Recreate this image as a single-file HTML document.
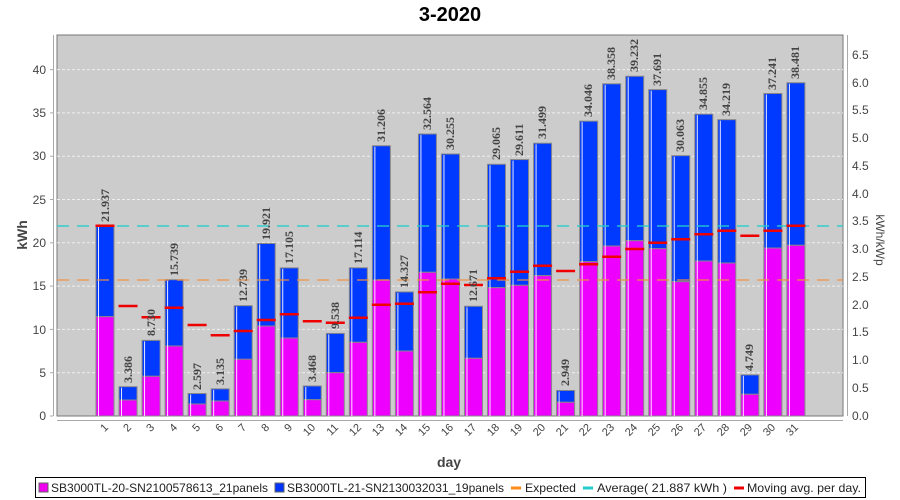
<!DOCTYPE html>
<html><head><meta charset="utf-8"><style>
html,body{margin:0;padding:0;background:#fff;}
svg{display:block;}
.vl{font-family:"Liberation Serif",serif;font-weight:bold;font-size:12px;fill:#444;}
.xl{font-family:"Liberation Sans",sans-serif;font-size:11px;fill:#444;}
.tk{font-family:"Liberation Sans",sans-serif;font-size:12px;fill:#444;}
.lg{font-family:"Liberation Sans",sans-serif;font-size:12px;fill:#222;}
</style></head><body>
<svg id="s" width="900" height="500" xmlns="http://www.w3.org/2000/svg">
<rect x="0" y="0" width="900" height="500" fill="#fff"/>
<text x="450" y="21" text-anchor="middle" font-family="Liberation Sans,sans-serif" font-weight="bold" font-size="20" fill="#000">3-2020</text>
<rect x="57" y="35" width="786" height="381" fill="#cccccc" stroke="#777" stroke-width="1"/>
<g id="grid" stroke="#eee" stroke-width="1" stroke-dasharray="3,2">
<line x1="57" x2="843" y1="372.7" y2="372.7"/><line x1="57" x2="843" y1="329.4" y2="329.4"/>
<line x1="57" x2="843" y1="286.1" y2="286.1"/><line x1="57" x2="843" y1="242.8" y2="242.8"/>
<line x1="57" x2="843" y1="199.5" y2="199.5"/><line x1="57" x2="843" y1="156.2" y2="156.2"/>
<line x1="57" x2="843" y1="112.9" y2="112.9"/><line x1="57" x2="843" y1="69.6" y2="69.6"/>
</g>
<g id="bars"></g>
<line x1="53.5" y1="35" x2="53.5" y2="416" stroke="#aaa"/>
<line x1="57" y1="420.5" x2="843" y2="420.5" stroke="#aaa"/>
<line x1="847.5" y1="35" x2="847.5" y2="416" stroke="#aaa"/>
<g class="tk" text-anchor="end">
<text x="46" y="420">0</text><text x="46" y="377">5</text><text x="46" y="334">10</text>
<text x="46" y="290">15</text><text x="46" y="247">20</text><text x="46" y="204">25</text>
<text x="46" y="160">30</text><text x="46" y="117">35</text><text x="46" y="74">40</text>
</g>
<g stroke="#aaa"><line x1="50" x2="53" y1="416" y2="416"/><line x1="50" x2="53" y1="372.7" y2="372.7"/><line x1="50" x2="53" y1="329.4" y2="329.4"/><line x1="50" x2="53" y1="286.1" y2="286.1"/><line x1="50" x2="53" y1="242.8" y2="242.8"/><line x1="50" x2="53" y1="199.5" y2="199.5"/><line x1="50" x2="53" y1="156.2" y2="156.2"/><line x1="50" x2="53" y1="112.9" y2="112.9"/><line x1="50" x2="53" y1="69.6" y2="69.6"/></g>
<g class="tk" font-size="11">
<text x="852" y="420">0.0</text><text x="852" y="392">0.5</text><text x="852" y="364">1.0</text>
<text x="852" y="336">1.5</text><text x="852" y="309">2.0</text><text x="852" y="281">2.5</text>
<text x="852" y="253">3.0</text><text x="852" y="225">3.5</text><text x="852" y="198">4.0</text>
<text x="852" y="170">4.5</text><text x="852" y="142">5.0</text><text x="852" y="114">5.5</text>
<text x="852" y="87">6.0</text><text x="852" y="59">6.5</text>
</g>
<text transform="translate(27,235) rotate(-90)" text-anchor="middle" font-family="Liberation Sans,sans-serif" font-weight="bold" font-size="14" fill="#444">kWh</text>
<text transform="translate(876,240) rotate(90)" text-anchor="middle" font-family="Liberation Sans,sans-serif" font-size="12" fill="#444">kWh/kWp</text>
<text x="449" y="467" text-anchor="middle" font-family="Liberation Sans,sans-serif" font-weight="bold" font-size="14" fill="#444">day</text>
<g class="vl">
<text transform="translate(109,222) rotate(-90)">21.937</text>
<text transform="translate(132,383) rotate(-90)">3.386</text>
<text transform="translate(155,336) rotate(-90)">8.730</text>
<text transform="translate(178,276) rotate(-90)">15.739</text>
<text transform="translate(201,390) rotate(-90)">2.597</text>
<text transform="translate(224,385) rotate(-90)">3.135</text>
<text transform="translate(247,302) rotate(-90)">12.739</text>
<text transform="translate(270,240) rotate(-90)">19.921</text>
<text transform="translate(293,264) rotate(-90)">17.105</text>
<text transform="translate(316,382) rotate(-90)">3.468</text>
<text transform="translate(339,329) rotate(-90)">9.538</text>
<text transform="translate(362,264) rotate(-90)">17.114</text>
<text transform="translate(385,142) rotate(-90)">31.206</text>
<text transform="translate(408,288) rotate(-90)">14.327</text>
<text transform="translate(431,130) rotate(-90)">32.564</text>
<text transform="translate(454,150) rotate(-90)">30.255</text>
<text transform="translate(477,302) rotate(-90)">12.671</text>
<text transform="translate(500,160) rotate(-90)">29.065</text>
<text transform="translate(523,156) rotate(-90)">29.611</text>
<text transform="translate(546,139) rotate(-90)">31.499</text>
<text transform="translate(569,386) rotate(-90)">2.949</text>
<text transform="translate(592,117) rotate(-90)">34.046</text>
<text transform="translate(615,80) rotate(-90)">38.358</text>
<text transform="translate(638,72) rotate(-90)">39.232</text>
<text transform="translate(661,86) rotate(-90)">37.691</text>
<text transform="translate(684,152) rotate(-90)">30.063</text>
<text transform="translate(707,110) rotate(-90)">34.855</text>
<text transform="translate(730,116) rotate(-90)">34.219</text>
<text transform="translate(753,371) rotate(-90)">4.749</text>
<text transform="translate(776,90) rotate(-90)">37.241</text>
<text transform="translate(799,79) rotate(-90)">38.481</text>
</g>
<g class="xl" text-anchor="end">
<text transform="translate(109,428) rotate(-45)">1</text>
<text transform="translate(132,428) rotate(-45)">2</text>
<text transform="translate(155,428) rotate(-45)">3</text>
<text transform="translate(178,428) rotate(-45)">4</text>
<text transform="translate(201,428) rotate(-45)">5</text>
<text transform="translate(224,428) rotate(-45)">6</text>
<text transform="translate(247,428) rotate(-45)">7</text>
<text transform="translate(270,428) rotate(-45)">8</text>
<text transform="translate(293,428) rotate(-45)">9</text>
<text transform="translate(316,428) rotate(-45)">10</text>
<text transform="translate(339,428) rotate(-45)">11</text>
<text transform="translate(362,428) rotate(-45)">12</text>
<text transform="translate(385,428) rotate(-45)">13</text>
<text transform="translate(408,428) rotate(-45)">14</text>
<text transform="translate(431,428) rotate(-45)">15</text>
<text transform="translate(454,428) rotate(-45)">16</text>
<text transform="translate(477,428) rotate(-45)">17</text>
<text transform="translate(500,428) rotate(-45)">18</text>
<text transform="translate(523,428) rotate(-45)">19</text>
<text transform="translate(546,428) rotate(-45)">20</text>
<text transform="translate(569,428) rotate(-45)">21</text>
<text transform="translate(592,428) rotate(-45)">22</text>
<text transform="translate(615,428) rotate(-45)">23</text>
<text transform="translate(638,428) rotate(-45)">24</text>
<text transform="translate(661,428) rotate(-45)">25</text>
<text transform="translate(684,428) rotate(-45)">26</text>
<text transform="translate(707,428) rotate(-45)">27</text>
<text transform="translate(730,428) rotate(-45)">28</text>
<text transform="translate(753,428) rotate(-45)">29</text>
<text transform="translate(776,428) rotate(-45)">30</text>
<text transform="translate(799,428) rotate(-45)">31</text>
</g>
<rect x="35.5" y="477.5" width="830" height="20" fill="#fff" stroke="#000"/>
<rect x="39" y="483" width="9" height="9" fill="#ee00ee" stroke="#666"/>
<text class="lg" x="51" y="492" textLength="217" lengthAdjust="spacingAndGlyphs">SB3000TL-20-SN2100578613_21panels</text>
<rect x="275" y="483" width="9" height="9" fill="#0033ff" stroke="#666"/>
<text class="lg" x="287" y="492" textLength="217" lengthAdjust="spacingAndGlyphs">SB3000TL-21-SN2130032031_19panels</text>
<line x1="511" x2="521" y1="488" y2="488" stroke="#ff8c1a" stroke-width="3"/>
<text class="lg" x="525" y="492" textLength="51" lengthAdjust="spacingAndGlyphs">Expected</text>
<line x1="583" x2="593" y1="488" y2="488" stroke="#22cccc" stroke-width="3"/>
<text class="lg" x="597" y="492" textLength="130" lengthAdjust="spacingAndGlyphs">Average( 21.887 kWh )</text>
<line x1="734" x2="744" y1="488" y2="488" stroke="#ee0000" stroke-width="3"/>
<text class="lg" x="747" y="492" textLength="114" lengthAdjust="spacingAndGlyphs">Moving avg. per day.</text>
</svg>
<script>
(function(){
var T=[21.937,3.386,8.730,15.739,2.597,3.135,12.739,19.921,17.105,3.468,9.538,17.114,31.206,14.327,32.564,30.255,12.671,29.065,29.611,31.499,2.949,34.046,38.358,39.232,37.691,30.063,34.855,34.219,4.749,37.241,38.481];
var M=[316.7,400,376.3,346,404,401,359.3,326,338,399.7,372.7,342.3,280,351,272.3,279,358.3,287.7,285.3,275.7,402.3,261.7,246,240.7,248.7,281.7,261,263,394.3,248,245.3];
var R=[225.7,306,317.3,307.7,325,335.3,331,320,314.3,321.3,322.7,317.7,304.7,303.7,292.3,283.7,285,278.3,271.7,265.7,271,264.3,256.7,249,242.7,239.3,234.3,230.7,235.7,230.7,225.7];
var ns="http://www.w3.org/2000/svg",g=document.getElementById('bars');
function el(n,a){var e=document.createElementNS(ns,n);for(var k in a)e.setAttribute(k,a[k]);g.appendChild(e);return e;}
var W=18;
for(var i=0;i<31;i++){
 var xc=105+23.03*i,x=xc-W/2,ty=416-8.66*T[i];
 el('rect',{x:x,y:ty,width:W,height:M[i]-ty,fill:'#0039ff',stroke:'#888','stroke-width':1});
 el('rect',{x:x,y:M[i],width:W,height:416-M[i],fill:'#ee00ff',stroke:'#888','stroke-width':1});
 el('line',{x1:x+2.5,x2:x+2.5,y1:ty+1,y2:416,stroke:'#fff','stroke-width':1,'stroke-opacity':0.9});
}
el('line',{x1:57,x2:843,y1:226,y2:226,stroke:'#22cccc','stroke-width':1.5,'stroke-dasharray':'12,8','stroke-opacity':0.9});
el('line',{x1:57,x2:843,y1:280,y2:280,stroke:'#f09040','stroke-width':1.5,'stroke-dasharray':'12,8','stroke-opacity':0.8});
for(var j=0;j<31;j++){
 var c=105+23.03*j;
 el('line',{x1:c-W/2-0.5,x2:c+W/2+0.5,y1:R[j],y2:R[j],stroke:'#ee0000','stroke-width':2.5});
}
})();
</script>
</body></html>
